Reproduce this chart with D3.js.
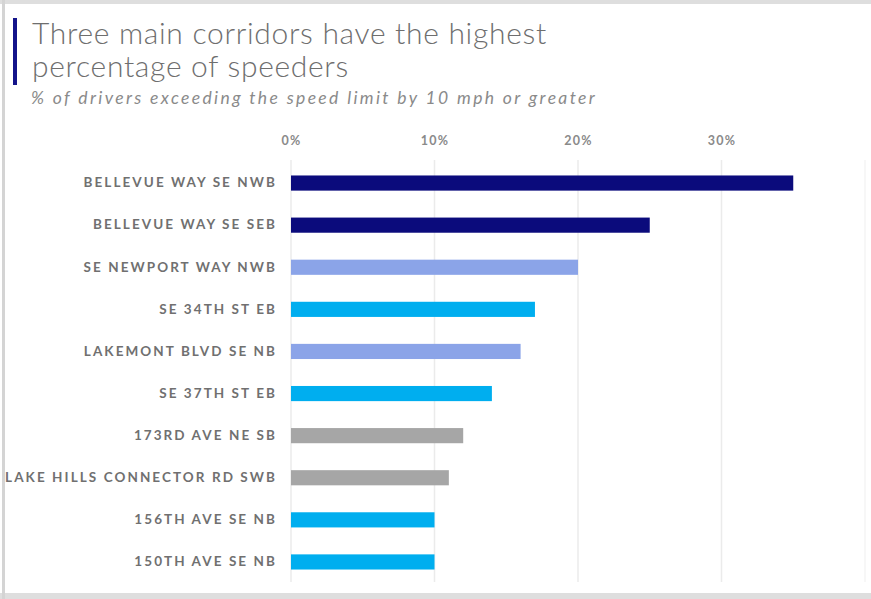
<!DOCTYPE html>
<html>
<head>
<meta charset="utf-8">
<script src="https://cdn.jsdelivr.net/npm/d3@7"></script>
<style>
  html, body { margin: 0; padding: 0; background: #fff; }
  svg { display: block; }
</style>
</head>
<body>
<svg id="chart" width="871" height="599"></svg>
<script>
// Corridor speeding data: share of drivers at 10+ mph over the limit
const corridors = [
  "BELLEVUE WAY SE NWB",
  "BELLEVUE WAY SE SEB",
  "SE NEWPORT WAY NWB",
  "SE 34TH ST EB",
  "LAKEMONT BLVD SE NB",
  "SE 37TH ST EB",
  "173RD AVE NE SB",
  "LAKE HILLS CONNECTOR RD SWB",
  "156TH AVE SE NB",
  "150TH AVE SE NB"
];
const pctSpeeders = [35, 25, 20, 17, 16, 14, 12, 11, 10, 10];
const corridorGroup = ["main", "main", "arterial", "collector", "arterial", "collector", "other", "other", "collector", "collector"];
const tickValues = [0, 10, 20, 30];

const groupColor = {
  main: "#0b0b7c",
  arterial: "#8ba4e8",
  collector: "#00aeef",
  other: "#a6a6a6"
};

const svg = d3.select("#chart");
const W = 871, H = 599;

// spread a text's letters so it spans the given width
function spreadTo(sel, width) {
  sel.attr("letter-spacing", 0);
  const node = sel.node();
  const w = node.getComputedTextLength();
  const n = node.textContent.length;
  const s = (width - w) / n;
  sel.attr("letter-spacing", s.toFixed(2) + "px");
  return s;
}

// page frame
svg.append("rect").attr("x", 0).attr("y", 0).attr("width", W).attr("height", H).attr("fill", "#fff");
svg.append("rect").attr("x", 0).attr("y", 0).attr("width", W).attr("height", 4).attr("fill", "#dedede");
svg.append("rect").attr("x", 0).attr("y", 593).attr("width", W).attr("height", 6).attr("fill", "#dedede");
svg.append("rect").attr("x", 2).attr("y", 0).attr("width", 3).attr("height", H).attr("fill", "#d4d4d4");

// title block with accent bar
svg.append("rect").attr("x", 13).attr("y", 18).attr("width", 4).attr("height", 67).attr("fill", "#14148a");
const titleFont = { family: "Lato, 'Open Sans', sans-serif", size: 30, weight: 300 };
const t1 = svg.append("text")
  .attr("x", 32).attr("y", 44)
  .attr("font-family", titleFont.family)
  .attr("font-size", titleFont.size)
  .attr("font-weight", titleFont.weight)
  .attr("fill", "#6e6e6e")
  .text("Three main corridors have the highest");
const titleSpacing = spreadTo(t1, 515);
svg.append("text")
  .attr("x", 32).attr("y", 77)
  .attr("font-family", titleFont.family)
  .attr("font-size", titleFont.size)
  .attr("font-weight", titleFont.weight)
  .attr("letter-spacing", titleSpacing.toFixed(2) + "px")
  .attr("fill", "#6e6e6e")
  .text("percentage of speeders");

const sub = svg.append("text")
  .attr("x", 31).attr("y", 104)
  .attr("font-family", "Lato, 'Open Sans', sans-serif")
  .attr("font-size", 17.5)
  .attr("font-style", "italic")
  .attr("fill", "#8a8a8a")
  .text("% of drivers exceeding the speed limit by 10 mph or greater");
spreadTo(sub, 566);

// scales
const x = d3.scaleLinear().domain([0, 40]).range([291, 865]);
const y = d3.scaleBand().domain(corridors).range([162, 583]).paddingInner(0.64).paddingOuter(0.32);

// vertical gridlines
svg.append("g")
  .selectAll("line")
  .data(tickValues.concat([40]))
  .join("line")
  .attr("x1", d => x(d)).attr("x2", d => x(d))
  .attr("y1", 160).attr("y2", 582)
  .attr("stroke", d => d === 40 ? "#f4f4f4" : "#ebebeb")
  .attr("stroke-width", 1.5);

// top axis labels
const xAxis = d3.axisTop(x)
  .tickValues(tickValues)
  .tickFormat(d => d + "%")
  .tickSize(0)
  .tickPadding(0);
const gx = svg.append("g").attr("transform", "translate(0,145)").call(xAxis);
gx.select(".domain").remove();
gx.selectAll("text")
  .attr("font-family", "Lato, 'Open Sans', sans-serif")
  .attr("font-size", 12.5)
  .attr("font-weight", 700)
  .attr("letter-spacing", "1.2px")
  .attr("fill", "#8a8a8a");

// category axis
const yAxis = d3.axisLeft(y).tickSize(0).tickPadding(14);
const gy = svg.append("g").attr("transform", `translate(${x(0)},0)`).call(yAxis);
gy.select(".domain").remove();
const labels = gy.selectAll("text")
  .attr("font-family", "Lato, 'Open Sans', sans-serif")
  .attr("font-size", 13.5)
  .attr("font-weight", 700)
  .attr("fill", "#707070");
const longest = labels.filter(d => d === "LAKE HILLS CONNECTOR RD SWB");
const labelSpacing = spreadTo(longest, 272);
labels.attr("letter-spacing", labelSpacing.toFixed(2) + "px");

// bars
svg.append("g")
  .selectAll("rect")
  .data(corridors)
  .join("rect")
  .attr("x", x(0))
  .attr("y", d => y(d))
  .attr("height", y.bandwidth())
  .attr("width", (d, i) => x(pctSpeeders[i]) - x(0))
  .attr("fill", (d, i) => groupColor[corridorGroup[i]]);
</script>
</body>
</html>
